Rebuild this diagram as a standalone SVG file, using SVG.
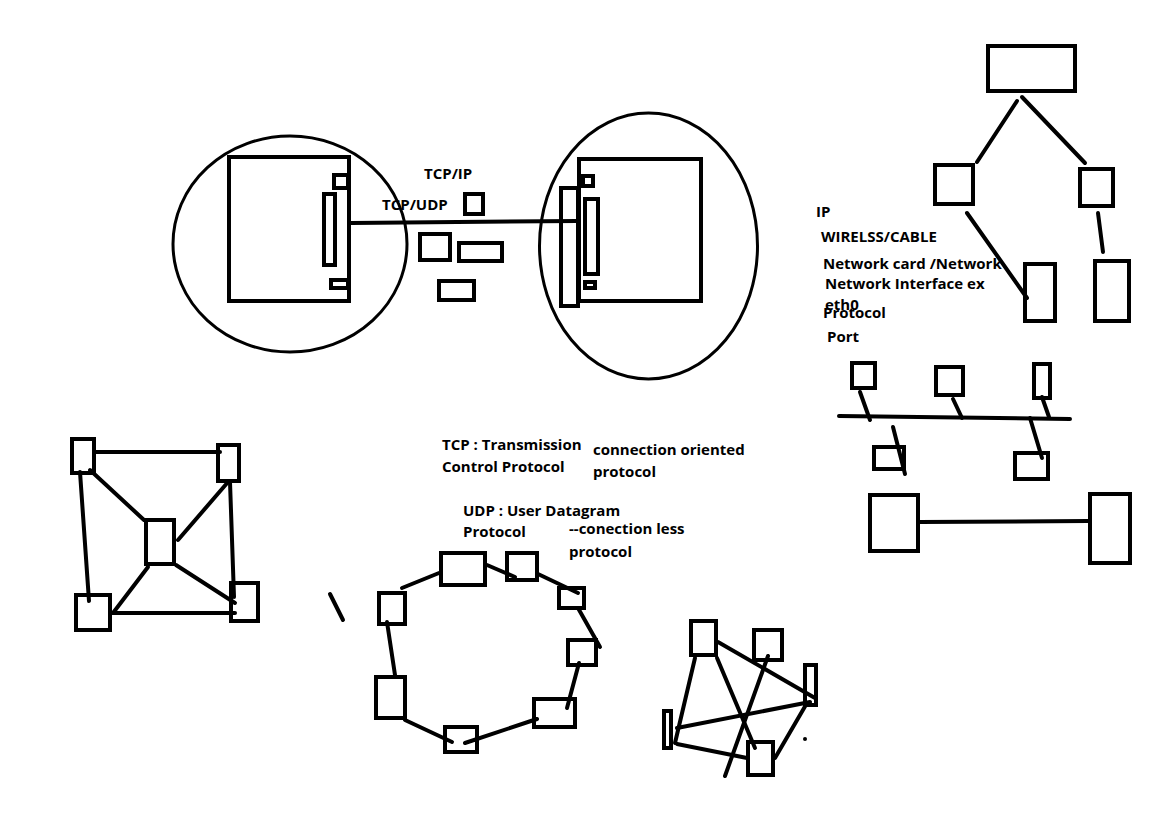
<svg xmlns="http://www.w3.org/2000/svg" width="1152" height="815" viewBox="0 0 1152 815">
<style>
rect{fill:none;stroke:#000;stroke-width:4}
ellipse{fill:none;stroke:#000;stroke-width:3}
line{stroke:#000;stroke-width:4;stroke-linecap:round}
text{font-family:"Open Sans","Liberation Sans",sans-serif;font-weight:700;font-size:15px;fill:#000}
</style>
<rect x="0" y="0" width="1152" height="815" style="fill:#fff;stroke:none"/>
<g id="connectors">
<line x1="351" y1="223" x2="577" y2="221"/>
<line x1="1017" y1="101" x2="977" y2="162"/>
<line x1="1022" y1="97" x2="1085" y2="163"/>
<line x1="967" y1="213" x2="1027" y2="298"/>
<line x1="1098" y1="213" x2="1103" y2="252"/>
<line x1="839" y1="416" x2="1070" y2="419"/>
<line x1="860" y1="392" x2="870" y2="420"/>
<line x1="953" y1="399" x2="962" y2="418"/>
<line x1="1042" y1="397" x2="1049" y2="417"/>
<line x1="893" y1="427" x2="905" y2="474"/>
<line x1="1030" y1="418" x2="1042" y2="458"/>
<line x1="920" y1="522" x2="1088" y2="521"/>
<line x1="96" y1="452" x2="220" y2="452"/>
<line x1="80" y1="472" x2="89" y2="601"/>
<line x1="90" y1="470" x2="144" y2="520"/>
<line x1="178" y1="540" x2="228" y2="482"/>
<line x1="230" y1="482" x2="234" y2="597"/>
<line x1="148" y1="567" x2="113" y2="613"/>
<line x1="176" y1="565" x2="235" y2="603"/>
<line x1="112" y1="613" x2="235" y2="613"/>
<line x1="330" y1="594" x2="343" y2="620"/>
<line x1="402" y1="588" x2="439" y2="573"/>
<line x1="487" y1="565" x2="515" y2="577"/>
<line x1="538" y1="574" x2="578" y2="593"/>
<line x1="578" y1="608" x2="600" y2="647"/>
<line x1="579" y1="663" x2="567" y2="708"/>
<line x1="537" y1="719" x2="465" y2="743"/>
<line x1="452" y1="742" x2="405" y2="720"/>
<line x1="395" y1="675" x2="387" y2="622"/>
<line x1="718" y1="642" x2="815" y2="698"/>
<line x1="695" y1="658" x2="675" y2="743"/>
<line x1="717" y1="658" x2="755" y2="748"/>
<line x1="768" y1="656" x2="725" y2="776"/>
<line x1="677" y1="728" x2="810" y2="702"/>
<line x1="677" y1="744" x2="747" y2="758"/>
<line x1="807" y1="703" x2="775" y2="758"/>
<circle cx="805" cy="739" r="2" fill="#000"/>
</g>
<g id="computer-left">
<ellipse cx="290" cy="244" rx="117" ry="108"/>
<rect x="229" y="157" width="120" height="144"/>
<rect x="334" y="175" width="14" height="13"/>
<rect x="324" y="194" width="11" height="71"/>
<rect x="331" y="280" width="17" height="8"/>
</g>
<g id="computer-right">
<ellipse cx="648.5" cy="246" rx="109" ry="133"/>
<rect x="579" y="159" width="122" height="142"/>
<rect x="561" y="188" width="17" height="118"/>
<rect x="583" y="176" width="10" height="10"/>
<rect x="585" y="199" width="13" height="75"/>
<rect x="585" y="282" width="10" height="6"/>
</g>
<g id="middle">
<text x="424" y="179">TCP/IP</text>
<text x="382" y="210">TCP/UDP</text>
<rect x="465" y="194" width="18" height="20"/>
<rect x="420" y="234" width="30" height="26"/>
<rect x="459" y="243" width="43" height="18"/>
<rect x="439" y="281" width="35" height="19"/>
</g>
<g id="tree">
<rect x="988" y="46" width="87" height="45"/>
<rect x="935" y="165" width="38" height="39"/>
<rect x="1080" y="169" width="33" height="37"/>
<rect x="1025" y="264" width="30" height="57"/>
<rect x="1095" y="261" width="34" height="60"/>
</g>
<g id="notes-right">
<text x="816" y="217">IP</text>
<text x="821" y="242">WIRELSS/CABLE</text>
<text x="823" y="269">Network card /Network</text>
<text x="825" y="289">Network Interface ex</text>
<text x="825" y="310">eth0</text>
<text x="823" y="318">Protocol</text>
<text x="827" y="342">Port</text>
</g>
<g id="bus">
<rect x="852" y="363" width="23" height="25"/>
<rect x="936" y="367" width="27" height="28"/>
<rect x="1034" y="364" width="16" height="34"/>
<rect x="874" y="447" width="30" height="22"/>
<rect x="1015" y="453" width="33" height="26"/>
<rect x="870" y="495" width="48" height="56"/>
<rect x="1090" y="494" width="40" height="69"/>
</g>
<g id="star">
<rect x="72" y="439" width="22" height="34"/>
<rect x="218" y="445" width="21" height="36"/>
<rect x="146" y="520" width="28" height="44"/>
<rect x="76" y="595" width="34" height="35"/>
<rect x="231" y="583" width="27" height="38"/>
</g>
<g id="notes-middle">
<text x="442" y="450">TCP : Transmission</text>
<text x="442" y="472">Control Protocol</text>
<text x="593" y="455">connection oriented</text>
<text x="593" y="477">protocol</text>
<text x="463" y="516">UDP : User Datagram</text>
<text x="463" y="537">Protocol</text>
<text x="569" y="534">--conection less</text>
<text x="569" y="557">protocol</text>
</g>
<g id="ring">
<rect x="441" y="553" width="44" height="32"/>
<rect x="507" y="553" width="30" height="27"/>
<rect x="559" y="588" width="25" height="20"/>
<rect x="568" y="640" width="28" height="25"/>
<rect x="534" y="699" width="41" height="28"/>
<rect x="445" y="727" width="32" height="25"/>
<rect x="376" y="677" width="29" height="41"/>
<rect x="379" y="593" width="26" height="31"/>
</g>
<g id="mesh">
<rect x="691" y="621" width="25" height="34"/>
<rect x="754" y="630" width="28" height="30"/>
<rect x="805" y="665" width="11" height="40"/>
<rect x="664" y="711" width="7" height="37"/>
<rect x="748" y="742" width="25" height="33"/>
</g>
</svg>
